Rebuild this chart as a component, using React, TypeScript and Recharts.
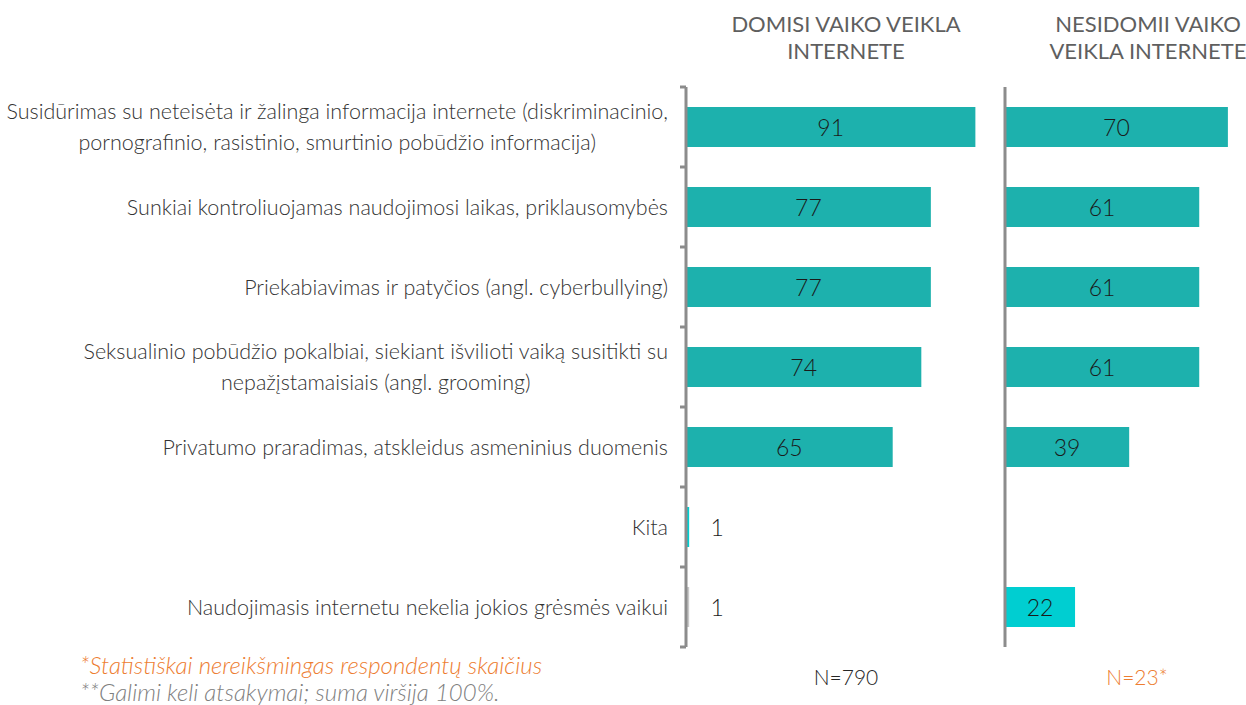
import { Bar, BarChart, Cell, LabelList, XAxis, YAxis } from 'recharts';

const categories = [
  'Susidūrimas su neteisėta ir žalinga informacija internete (diskriminacinio,\npornografinio, rasistinio, smurtinio pobūdžio informacija)',
  'Sunkiai kontroliuojamas naudojimosi laikas, priklausomybės',
  'Priekabiavimas ir patyčios (angl. cyberbullying)',
  'Seksualinio pobūdžio pokalbiai, siekiant išvilioti vaiką susitikti su\nnepažįstamaisiais (angl. grooming)',
  'Privatumo praradimas, atskleidus asmeninius duomenis',
  'Kita',
  'Naudojimasis internetu nekelia jokios grėsmės vaikui',
];

const interestedValues = [91, 77, 77, 74, 65, 1, 1];
const notInterestedValues = [70, 61, 61, 61, 39, null, 22];

const interestedColors = ['#1DB1AD', '#1DB1AD', '#1DB1AD', '#1DB1AD', '#1DB1AD', '#00CED1', '#C8C8C8'];
const notInterestedColors = ['#1DB1AD', '#1DB1AD', '#1DB1AD', '#1DB1AD', '#1DB1AD', '#00CED1', '#00CED1'];

const headers = ['DOMISI VAIKO VEIKLA\nINTERNETE', 'NESIDOMII VAIKO\nVEIKLA INTERNETE'];
const sampleSizes = ['N=790', 'N=23*'];
const footnotes = [
  '*Statistiškai nereikšmingas respondentų skaičius',
  '**Galimi keli atsakymai; suma viršija 100%.',
];

const FONT = 'Lato, "Open Sans", sans-serif';
const TOP = 87;
const BOTTOM = 58;
const HEIGHT = 705;
const BAND = (HEIGHT - TOP - BOTTOM) / categories.length;
const AXIS_GREY = '#8C8C8C';

const leftData = categories.map((name, i) => ({ name, value: interestedValues[i] }));
const rightData = categories.map((name, i) => ({ name, value: notInterestedValues[i] }));

// category label: right-aligned block, lines centered to each other, plus boundary ticks
function CategoryTick(props: any) {
  const { x, y, payload, index } = props;
  const lines = String(payload.value).split('\n');
  const boxH = 72;
  return (
    <g>
      <line x1={x - 6} x2={x} y1={y - BAND / 2} y2={y - BAND / 2} stroke={AXIS_GREY} strokeWidth={3} />
      {index === categories.length - 1 && (
        <line x1={x - 6} x2={x} y1={y + BAND / 2} y2={y + BAND / 2} stroke={AXIS_GREY} strokeWidth={3} />
      )}
      <foreignObject x={0} y={y - boxH / 2} width={x - 18} height={boxH}>
        <div
          style={{
            display: 'flex',
            justifyContent: 'flex-end',
            alignItems: 'center',
            height: boxH,
          }}
        >
          <div
            style={{
              textAlign: 'center',
              fontFamily: FONT,
              fontWeight: 300,
              fontSize: 21.5,
              lineHeight: '31px',
              color: '#333',
              whiteSpace: 'nowrap',
            }}
          >
            {lines.map((l, k) => (
              <div key={k}>{l}</div>
            ))}
          </div>
        </div>
      </foreignObject>
    </g>
  );
}

function ValueLabel(props: any) {
  const { x, y, width, height, value } = props;
  if (value == null) return null;
  const inside = value >= 10;
  const cx = inside ? x + width / 2 : x + width + 28;
  return (
    <text
      x={cx}
      y={y + height / 2}
      textAnchor="middle"
      dominantBaseline="central"
      fontFamily={FONT}
      fontWeight={300}
      fontSize={23}
      fill="#1a1a1a"
    >
      {value}
    </text>
  );
}

export default function App() {
  const textBase = { fontFamily: FONT, color: '#595959', position: 'absolute' as const };
  return (
    <div
      style={{
        position: 'absolute',
        left: 0,
        top: 0,
        width: 1246,
        height: HEIGHT,
        background: '#fff',
        overflow: 'hidden',
      }}
    >
      <div style={{ position: 'absolute', left: 0, top: 0 }}>
        <BarChart
          width={1004}
          height={HEIGHT}
          layout="vertical"
          data={leftData}
          margin={{ top: TOP, bottom: BOTTOM, left: 0, right: 0 }}
        >
          <XAxis type="number" domain={[0, 100]} hide />
          <YAxis
            type="category"
            dataKey="name"
            width={686}
            axisLine={{ stroke: AXIS_GREY, strokeWidth: 3 }}
            tickLine={false}
            tickSize={0}
            tickMargin={0}
            tick={<CategoryTick />}
            interval={0}
          />
          <Bar dataKey="value" barSize={40} isAnimationActive={false}>
            {leftData.map((_, i) => (
              <Cell key={i} fill={interestedColors[i]} />
            ))}
            <LabelList dataKey="value" content={<ValueLabel />} />
          </Bar>
        </BarChart>
      </div>
      <div style={{ position: 'absolute', left: 985, top: 0 }}>
        <BarChart
          width={262}
          height={HEIGHT}
          layout="vertical"
          data={rightData}
          margin={{ top: TOP, bottom: BOTTOM, left: 0, right: 0 }}
        >
          <XAxis type="number" domain={[0, 76]} hide />
          <YAxis
            type="category"
            dataKey="name"
            width={20}
            axisLine={{ stroke: AXIS_GREY, strokeWidth: 3 }}
            tickLine={false}
            tick={false}
          />
          <Bar dataKey="value" barSize={40} isAnimationActive={false}>
            {rightData.map((_, i) => (
              <Cell key={i} fill={notInterestedColors[i]} />
            ))}
            <LabelList dataKey="value" content={<ValueLabel />} />
          </Bar>
        </BarChart>
      </div>

      {headers.map((h, i) => (
        <div
          key={h}
          style={{
            ...textBase,
            left: i === 0 ? 696 : 998,
            width: 300,
            top: 10,
            textAlign: 'center',
            fontSize: 22,
            lineHeight: '27px',
            whiteSpace: 'pre',
            color: '#5f5f5f',
          }}
        >
          {h}
        </div>
      ))}

      {sampleSizes.map((n, i) => (
        <div
          key={n}
          style={{
            ...textBase,
            left: i === 0 ? 746 : 1037,
            width: 200,
            top: 664,
            textAlign: 'center',
            fontSize: 21,
            fontWeight: 300,
            color: i === 0 ? '#262626' : '#ED7D31',
          }}
        >
          {n}
        </div>
      ))}

      {footnotes.map((f, i) => (
        <div
          key={f}
          style={{
            ...textBase,
            left: 80,
            top: 653 + i * 27,
            fontSize: 24,
            lineHeight: '24px',
            fontStyle: 'italic',
            fontWeight: 300,
            color: i === 0 ? '#ED7D31' : '#7F7F7F',
            whiteSpace: 'nowrap',
          }}
        >
          {f}
        </div>
      ))}
    </div>
  );
}
